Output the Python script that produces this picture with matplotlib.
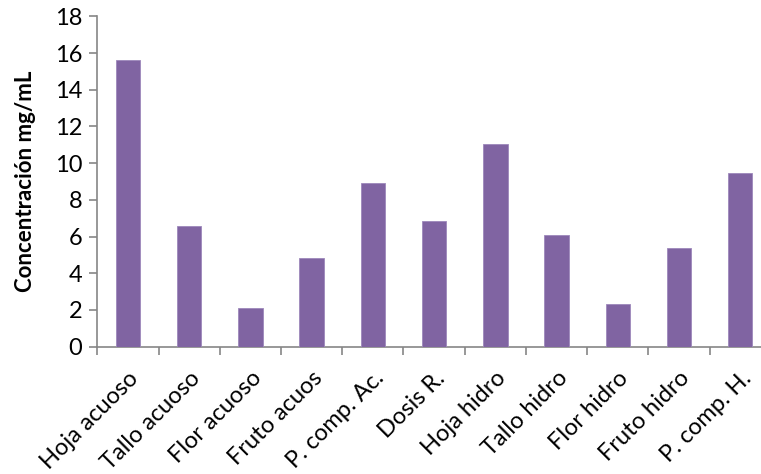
import matplotlib
matplotlib.use("Agg")
import matplotlib.pyplot as plt
import numpy as np
from matplotlib.ticker import FixedLocator

categories = ["Hoja acuoso", "Tallo acuoso", "Flor acuoso", "Fruto acuos", "P. comp. Ac.",
              "Dosis R.", "Hoja hidro", "Tallo hidro", "Flor hidro", "Fruto hidro", "P. comp. H."]
values = [15.6, 6.6, 2.12, 4.82, 8.93, 6.85, 11.06, 6.08, 2.3, 5.4, 9.46]
yticks = [0, 2, 4, 6, 8, 10, 12, 14, 16, 18]

plt.rcParams['font.family'] = ['Lato', 'DejaVu Sans']

fig = plt.figure(figsize=(7.61, 4.74), dpi=100)
ax = fig.add_axes([0.1279, 0.2686, 0.885, 0.697])

x = np.arange(len(categories))
ax.bar(x, values, width=0.4, color="#8064A2", edgecolor="#9d88bb", linewidth=0.6, zorder=3)

ax.set_xlim(-0.5, len(categories) - 0.5)
ax.set_ylim(0, 18)
ax.set_yticks(yticks)
ax.set_yticklabels([str(t) for t in yticks], fontsize=17)

ax.set_xticks(x)
ax.set_xticklabels(categories, rotation=45, ha="right", rotation_mode="anchor", fontsize=17)
ax.tick_params(axis="x", which="major", length=0, pad=15)
ax.xaxis.set_minor_locator(FixedLocator(np.arange(-0.5, len(categories), 1.0)))
ax.tick_params(axis="x", which="minor", length=6, color="#868686", width=1.2, direction="out")
ax.tick_params(axis="y", length=6, color="#868686", width=1.2, direction="out", pad=5)

for s in ["top", "right"]:
    ax.spines[s].set_visible(False)
for s in ["left", "bottom"]:
    ax.spines[s].set_color("#868686")
    ax.spines[s].set_linewidth(1.2)

ax.set_ylabel("Concentración mg/mL", fontsize=16, fontweight="bold", labelpad=13)

fig.savefig("out.png", dpi=100)
